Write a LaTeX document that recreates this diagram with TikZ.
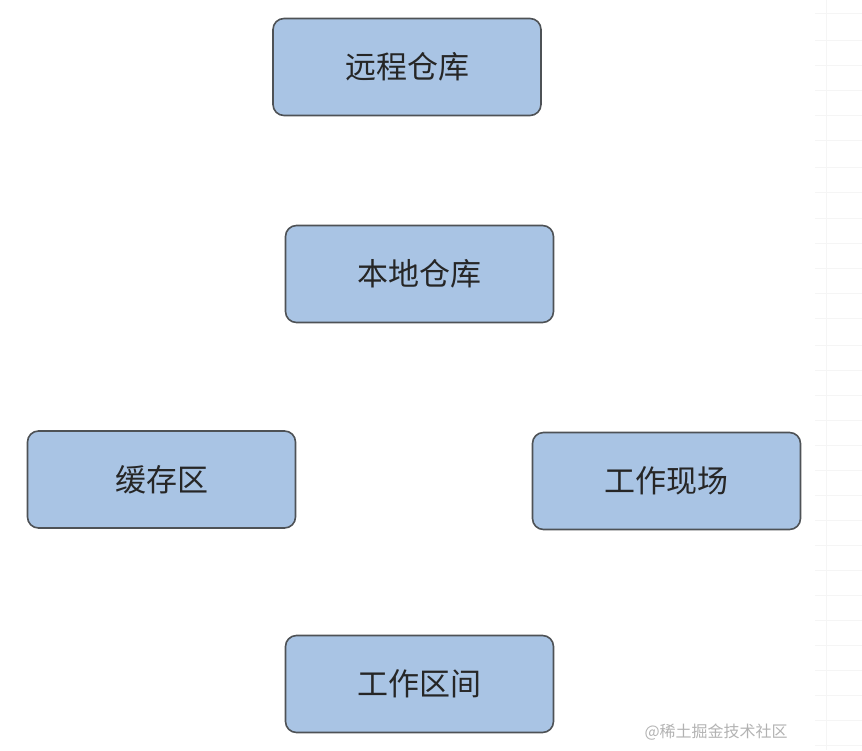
\documentclass[tikz,border=0pt]{standalone}
\usepackage{fontspec}
\newfontfamily\cjk{Noto Sans CJK SC}
\definecolor{boxfill}{HTML}{A9C4E4}
\definecolor{boxline}{HTML}{4E5256}
\definecolor{gridc}{HTML}{F5F5F5}
\begin{document}
\begin{tikzpicture}[x=1pt,y=-1pt,
  stage/.style={draw=boxline, fill=boxfill, line width=1.6pt, rounded corners=11pt,
    minimum width=268pt, minimum height=97pt, inner sep=0pt,
    font=\cjk\fontsize{31}{36}\selectfont, text=black!85},
  wmark/.style={font=\cjk\fontsize{16}{18}\selectfont, text=black!30}]
\useasboundingbox (0,0) rectangle (862,750);
% faint grid at right edge
\draw[gridc, line width=0.7pt] (826,0) -- (826,750);
\foreach \yy in {13,40,65,90,115,140,167,192,218,243,268,293,318,345,370,395,420,445,470,495,520,545,570,595,620,645,670,695,720,745}
  \draw[gridc, line width=0.7pt] (815,\yy) -- (862,\yy);
\node[stage] (remote) at (407,67) {远程仓库};
\node[stage] (local) at (419.5,274) {本地仓库};
\node[stage] (cache) at (161.5,479.5) {缓存区};
\node[stage] (scene) at (666.5,481) {工作现场};
\node[stage] (work) at (419.5,684) {工作区间};
\node[wmark, anchor=west] (wm) at (641,732) {@稀土掘金技术社区};
\end{tikzpicture}
\end{document}
